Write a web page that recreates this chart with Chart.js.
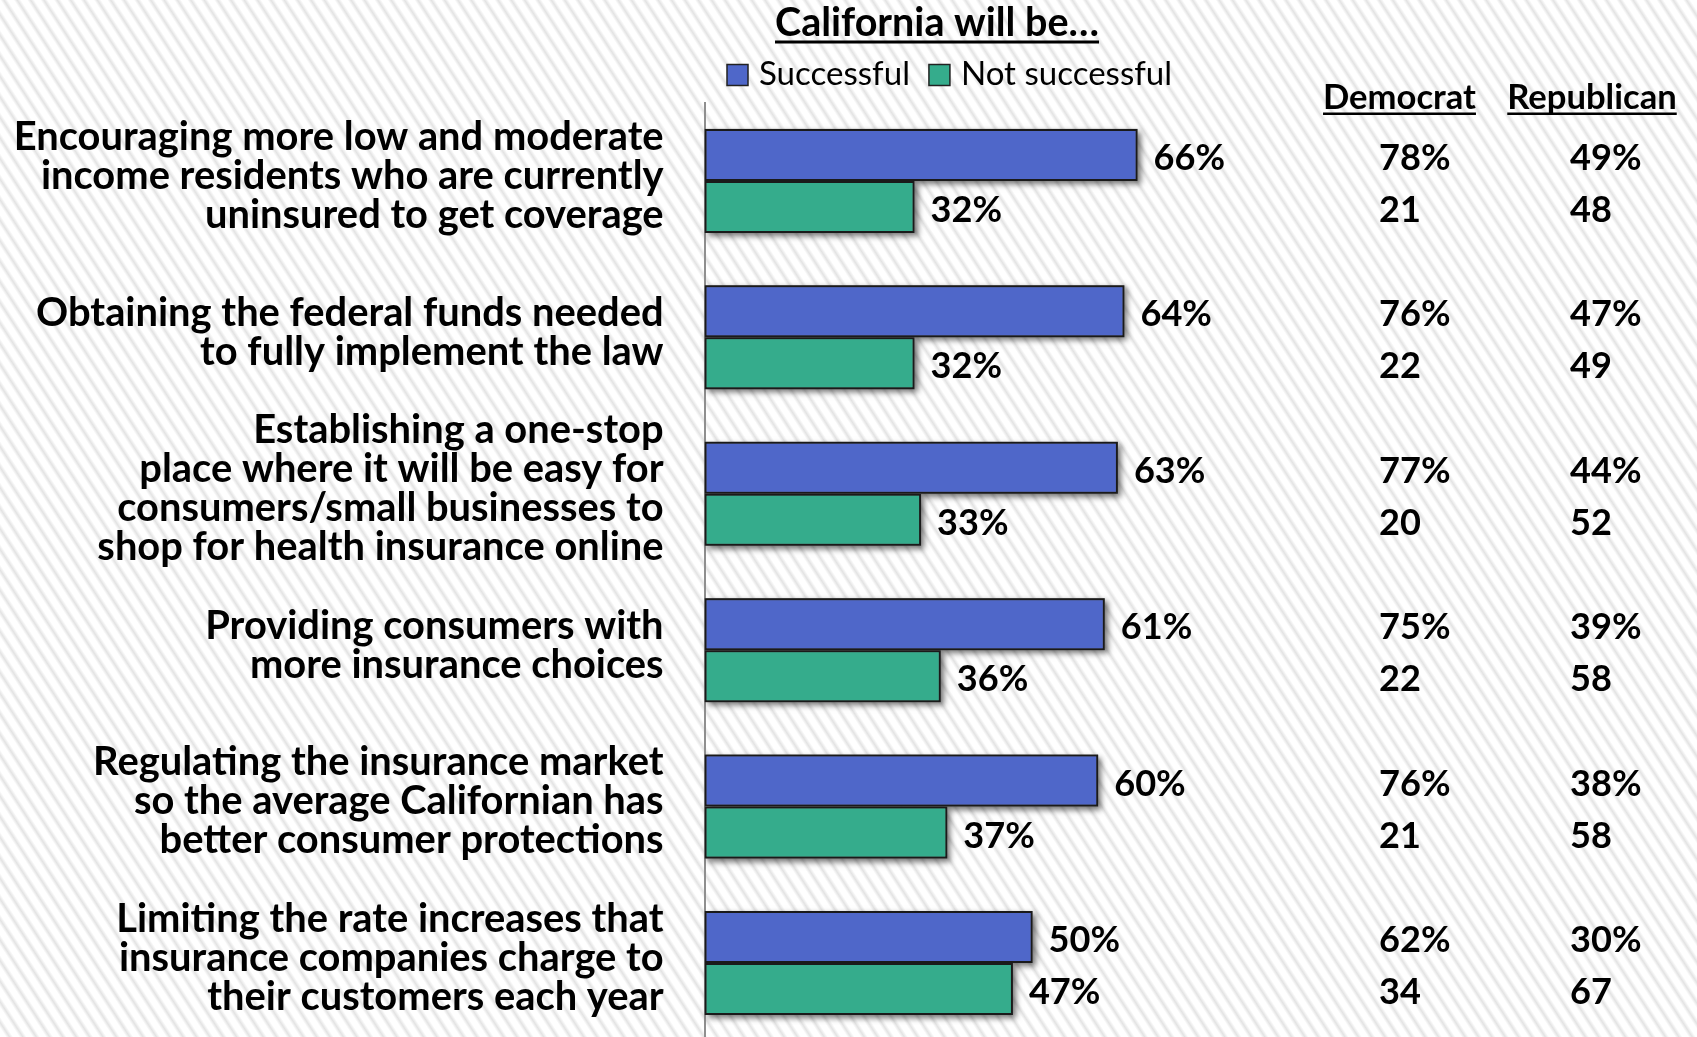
<!DOCTYPE html>
<html>
<head>
<meta charset="utf-8">
<script src="https://cdn.jsdelivr.net/npm/chart.js@4.4.1/dist/chart.umd.min.js"></script>
<style>
html, body { margin:0; padding:0; overflow:hidden; width:1697px; height:1037px;
  background:#fff repeating-linear-gradient(57deg, #ffffff 0px, #ffffff 5px, #e3e3e3 8px, #ffffff 11.2px); }
#wrap { position:absolute; left:0; top:0; width:1697px; height:1042px; }
</style>
</head>
<body>
<div id="wrap"><canvas id="c"></canvas></div>
<script>
// ---- data ----
const categories = [
  ["Encouraging more low and moderate", "income residents who are currently", "uninsured to get coverage"],
  ["Obtaining the federal funds needed", "to fully implement the law"],
  ["Establishing a one-stop", "place where it will be easy for", "consumers/small businesses to", "shop for health insurance online"],
  ["Providing consumers with", "more insurance choices"],
  ["Regulating the insurance market", "so the average Californian has", "better consumer protections"],
  ["Limiting the rate increases that", "insurance companies charge to", "their customers each year"]
];
const seriesNames = ["Successful", "Not successful"];
const successful = [66, 64, 63, 61, 60, 50];
const notSuccessful = [32, 32, 33, 36, 37, 47];
const partyHeaders = ["Democrat", "Republican"];
const demSuccessful = [78, 76, 77, 75, 76, 62];
const demNotSuccessful = [21, 22, 20, 22, 21, 34];
const repSuccessful = [49, 47, 44, 39, 38, 30];
const repNotSuccessful = [48, 49, 52, 58, 58, 67];
const titleText = "California will be…";

// ---- styles ----
const FAMILY = 'Lato, "Open Sans", "DejaVu Sans", sans-serif';
const BLUE = '#4F67C9';
const GREEN = '#35AC8C';
const AXIS_X = 704.6;
const PLOT_RIGHT = 1360.6;
const PLOT_TOP = 102.7;

function build() {
  const m = document.createElement('canvas').getContext('2d');
  function fit(text, weight, target) {
    m.font = weight + ' 100px ' + FAMILY;
    return 100 * target / m.measureText(text).width;
  }
  const labelSize = fit('Encouraging more low and moderate', 'bold', 650);
  const titleSize = fit(titleText, 'bold', 324);
  const legendSize = fit('Successful', 'normal', 151);
  const headerSize = fit('Democrat', 'bold', 153);
  const valueSize = fit('78%', 'bold', 71.5);

  const decor = {
    id: 'decor',
    beforeDatasetsDraw(chart) {
      const ctx = chart.ctx;
      chart.data.datasets.forEach((ds, di) => {
        const meta = chart.getDatasetMeta(di);
        meta.data.forEach(el => {
          const p = el.getProps(['x', 'y', 'base', 'height'], true);
          ctx.save();
          ctx.shadowColor = 'rgba(0,0,0,0.55)';
          ctx.shadowBlur = 6;
          ctx.shadowOffsetX = 3;
          ctx.shadowOffsetY = 3;
          ctx.fillStyle = '#555';
          ctx.fillRect(p.base, p.y - p.height / 2, p.x - p.base, p.height);
          ctx.restore();
        });
      });
    },
    afterDraw(chart) {
      const ctx = chart.ctx;
      ctx.save();
      ctx.fillStyle = '#000';
      ctx.textBaseline = 'alphabetic';

      // title
      ctx.font = 'bold ' + titleSize + 'px ' + FAMILY;
      ctx.textAlign = 'center';
      ctx.fillText(titleText, 937, 36);
      const tw = ctx.measureText(titleText).width;
      ctx.fillRect(937 - tw / 2, 40.5, tw, 3);

      // legend
      ctx.font = legendSize + 'px ' + FAMILY;
      ctx.textAlign = 'left';
      let lx = 727;
      chart.data.datasets.forEach(ds => {
        ctx.fillStyle = ds.backgroundColor;
        ctx.fillRect(lx, 64.5, 21, 21);
        ctx.strokeStyle = '#222';
        ctx.lineWidth = 1.5;
        ctx.strokeRect(lx, 64.5, 21, 21);
        ctx.fillStyle = '#000';
        ctx.fillText(ds.label, lx + 32, 85);
        lx += 32 + ctx.measureText(ds.label).width + 19;
      });

      // party headers
      ctx.font = 'bold ' + headerSize + 'px ' + FAMILY;
      ctx.textAlign = 'center';
      const hx = [1399.5, 1592];
      partyHeaders.forEach((h, i) => {
        ctx.fillText(h, hx[i], 109);
        const w = ctx.measureText(h).width;
        ctx.fillRect(hx[i] - w / 2, 112.5, w, 2.5);
      });

      // bar labels and party columns
      ctx.font = 'bold ' + valueSize + 'px ' + FAMILY;
      ctx.textAlign = 'left';
      const cols = [
        [demSuccessful, repSuccessful],
        [demNotSuccessful, repNotSuccessful]
      ];
      chart.data.datasets.forEach((ds, di) => {
        const meta = chart.getDatasetMeta(di);
        meta.data.forEach((el, i) => {
          const y = el.y + 15;
          ctx.fillText(ds.data[i] + '%', el.x + 16, y);
          const suffix = di === 0 ? '%' : '';
          ctx.fillText(cols[di][0][i] + suffix, 1379, y);
          ctx.fillText(cols[di][1][i] + suffix, 1570, y);
        });
      });
      ctx.restore();
    }
  };

  new Chart(document.getElementById('c'), {
    type: 'bar',
    data: {
      labels: categories,
      datasets: [
        { label: seriesNames[0], data: successful, backgroundColor: BLUE,
          borderColor: '#1a1a1a', borderWidth: 2, borderSkipped: false,
          barPercentage: 1, categoryPercentage: 0.665 },
        { label: seriesNames[1], data: notSuccessful, backgroundColor: GREEN,
          borderColor: '#1a1a1a', borderWidth: 2, borderSkipped: false,
          barPercentage: 1, categoryPercentage: 0.665 }
      ]
    },
    options: {
      indexAxis: 'y',
      responsive: true,
      maintainAspectRatio: false,
      animation: false,
      layout: { padding: { top: PLOT_TOP, right: 1697 - PLOT_RIGHT, bottom: 0.8, left: 0 } },
      plugins: { legend: { display: false }, title: { display: false }, tooltip: { enabled: false } },
      scales: {
        x: { type: 'linear', min: 0, max: 100, display: false },
        y: {
          type: 'category',
          position: 'left',
          grid: { display: true, drawOnChartArea: false, drawTicks: false },
          border: { display: true, color: '#8f8f8f', width: 2 },
          ticks: {
            color: '#000',
            autoSkip: false,
            padding: 41,
            crossAlign: 'near',
            labelOffset: -5,
            font: { family: FAMILY, weight: 'bold', size: labelSize, lineHeight: 39 / labelSize }
          },
          afterFit(s) { s.width = AXIS_X; s.paddingTop = 0; s.paddingBottom = 0; }
        }
      }
    },
    plugins: [decor]
  });
}

Promise.all([
  document.fonts.load('bold 40px Lato'),
  document.fonts.load('40px Lato')
]).then(build, build);
</script>
</body>
</html>
